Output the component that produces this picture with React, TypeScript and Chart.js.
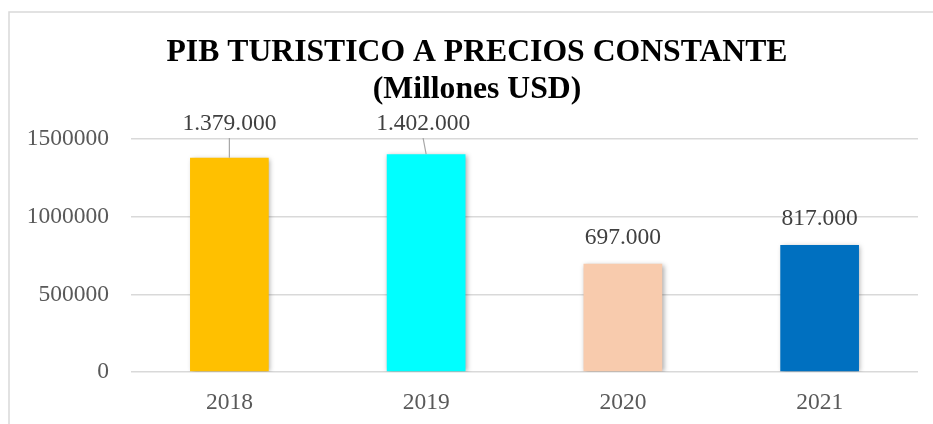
import React, { useEffect, useRef } from "react";
import { Chart, registerables } from "chart.js";

Chart.register(...registerables);

const categories = ["2018", "2019", "2020", "2021"];
const values = [1379000, 1402000, 697000, 817000];
const valueLabels = ["1.379.000", "1.402.000", "697.000", "817.000"];
const barColors = ["#FFC000", "#00FFFF", "#F8CBAD", "#0070C0"];
const titleLines = ["PIB TURISTICO A PRECIOS CONSTANTE", "(Millones USD)"];
const yTicks = [0, 500000, 1000000, 1500000];

const FONT = "'Liberation Serif', 'Times New Roman', serif";

export default function App() {
  const ref = useRef<HTMLCanvasElement | null>(null);

  useEffect(() => {
    if (!ref.current) return;

    const framePlugin = {
      id: "frame",
      beforeDraw(chart: any) {
        const ctx = chart.ctx;
        ctx.save();
        ctx.fillStyle = "#ffffff";
        ctx.fillRect(0, 0, chart.width, chart.height);
        ctx.strokeStyle = "#D9D9D9";
        ctx.lineWidth = 1.5;
        ctx.strokeRect(9, 12, chart.width + 50, chart.height + 50);
        ctx.restore();
      },
    };

    const titlePlugin = {
      id: "customTitle",
      afterDraw(chart: any) {
        const ctx = chart.ctx;
        ctx.save();
        ctx.fillStyle = "#000000";
        ctx.font = `bold 31.7px ${FONT}`;
        ctx.textAlign = "center";
        ctx.textBaseline = "middle";
        const cx = 477;
        titleLines.forEach((t, i) => ctx.fillText(t, cx, 53 + i * 37));
        ctx.restore();
      },
    };

    const shadowPlugin = {
      id: "barShadow",
      beforeDatasetsDraw(chart: any) {
        const ctx = chart.ctx;
        ctx.save();
        ctx.shadowColor = "rgba(0,0,0,0.35)";
        ctx.shadowBlur = 5;
        ctx.shadowOffsetX = 1.5;
        ctx.shadowOffsetY = 1;
      },
      afterDatasetsDraw(chart: any) {
        chart.ctx.restore();
      },
    };

    const labelPlugin = {
      id: "valueLabels",
      afterDatasetsDraw(chart: any) {
        const ctx = chart.ctx;
        const meta = chart.getDatasetMeta(0);
        const top = chart.chartArea.top;
        ctx.save();
        ctx.font = `23.5px ${FONT}`;
        ctx.textAlign = "center";
        ctx.textBaseline = "middle";
        meta.data.forEach((bar: any, i: number) => {
          const def = bar.y - 26;
          const moved = def < top;
          const ly = moved ? top - 15 : def;
          const lx = bar.x - (i === 1 ? 3 : 0);
          if (moved) {
            ctx.strokeStyle = "#A6A6A6";
            ctx.lineWidth = 1.2;
            ctx.beginPath();
            ctx.moveTo(lx, ly + 14);
            ctx.lineTo(bar.x, bar.y);
            ctx.stroke();
          }
          ctx.fillStyle = "#404040";
          ctx.fillText(valueLabels[i], lx, ly);
        });
        ctx.restore();
      },
    };

    const chart = new Chart(ref.current, {
      type: "bar",
      data: {
        labels: categories,
        datasets: [
          {
            data: values,
            backgroundColor: barColors,
            borderWidth: 0,
            barPercentage: 0.4,
            categoryPercentage: 1,
          },
        ],
      },
      options: {
        responsive: false,
        animation: false,
        layout: { padding: { top: 139, right: 15, bottom: 0, left: 0 } },
        plugins: {
          legend: { display: false },
          title: { display: false },
          tooltip: { enabled: false },
        },
        scales: {
          x: {
            grid: { display: false, drawTicks: false },
            border: { display: false },
            ticks: {
              color: "#595959",
              font: { family: FONT, size: 23.5 },
              padding: 17,
            },
            afterFit(scale: any) {
              scale.height = 52;
            },
          },
          y: {
            min: 0,
            max: 1500000,
            afterBuildTicks(scale: any) {
              scale.ticks = yTicks.map((v) => ({ value: v }));
            },
            grid: { color: "#D9D9D9", lineWidth: 1.5, drawTicks: false },
            border: { display: false },
            ticks: {
              color: "#595959",
              font: { family: FONT, size: 23.5 },
              padding: 22,
              callback: (v: any) => String(v),
            },
            afterFit(scale: any) {
              scale.width = 131;
            },
          },
        },
      },
      plugins: [framePlugin, shadowPlugin, labelPlugin, titlePlugin],
    });

    return () => chart.destroy();
  }, []);

  return (
    <div style={{ position: "absolute", left: 0, top: 0, width: 933, height: 424, background: "#fff" }}>
      <canvas ref={ref} width={933} height={424} style={{ display: "block" }} />
    </div>
  );
}
